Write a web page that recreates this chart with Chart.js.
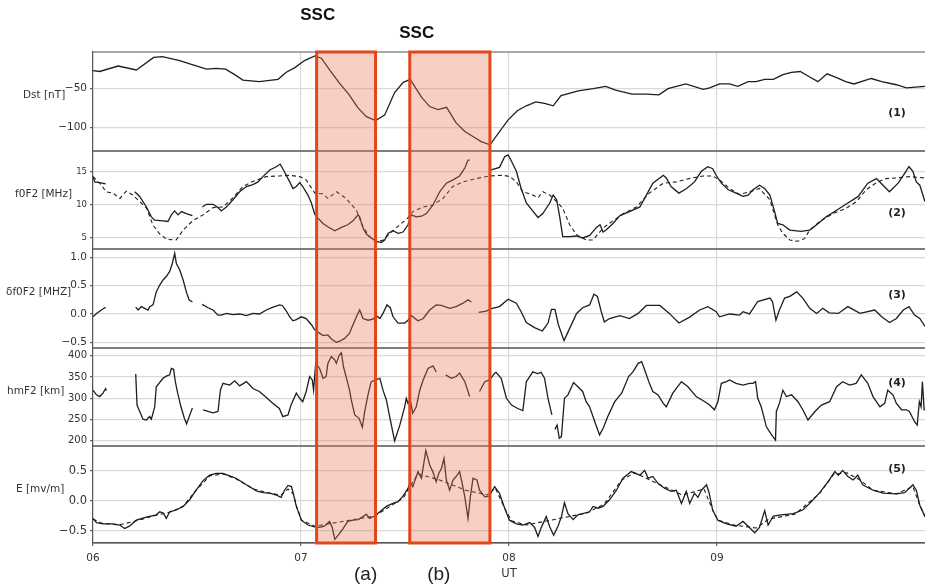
<!DOCTYPE html>
<html>
<head>
<meta charset="utf-8">
<script src="https://cdn.jsdelivr.net/npm/chart.js@4.4.1/dist/chart.umd.min.js"></script>
<style>
html, body { margin: 0; padding: 0; background: #fff; }
canvas { display: block; }
</style>
</head>
<body>
<canvas id="chart" width="925" height="586"></canvas>
<script>
// x values are hours since 06 00 UT, [hour, value], null = data gap
var dayTicks = [0, 24, 48, 72];
var dayLabels = ['06', '07', '08', '09'];

var dstTicks = [-100, -50];
var foF2Ticks = [5, 10, 15];
var dfoF2Ticks = [-0.5, 0, 0.5, 1.0];
var hmF2Ticks = [200, 250, 300, 350, 400];
var eTicks = [-0.5, 0, 0.5];

// SSC windows (a) and (b), hours
var sscWindows = [[25.8, 32.6], [36.55, 45.8]];

var dst = [[0,-27],[0.77,-28],[2.9,-21],[5,-26],[7,-10],[8,-9],[10,-14],[11.35,-19],[13.1,-25],[14.2,-24],
	[15.3,-25],[16.35,-32],[17.3,-39],[19.2,-41],[21.35,-38],[22.3,-29],[23.3,-23],[24.4,-14],[25.6,-8],[26.35,-11],
	[27.3,-26],[28.5,-44],[29.5,-57],[30.6,-75],[31.55,-86],[32.6,-91],[33.65,-84],[34.8,-55],[35.8,-42],[36.6,-38],
	[37.9,-61],[38.85,-73],[39.8,-77],[40.8,-74],[41.9,-94],[42.9,-105],[43.8,-111],[44.8,-118],[45.8,-122],[47.9,-90],
	[49,-78],[50,-72],[51.1,-67],[52.1,-69],[53.1,-72],[54,-59],[56,-53],[57.7,-50],[59.15,-47],[60.3,-52],
	[62.2,-57],[63.85,-57],[65.3,-58],[66.35,-50],[68.4,-44],[70.4,-51],[71.15,-49],[72.3,-44],[73.45,-44],[74.4,-47],
	[75.6,-41],[76.5,-41],[77.5,-38],[78.5,-38],[79.6,-32],[80.6,-29],[81.6,-28],[82.7,-35],[83.65,-41],[84.7,-31],
	[85.8,-36],[86.85,-41],[87.8,-44],[89.8,-37],[91,-41],[92.7,-45],[93.85,-49],[96,-47]];

var foF2Obs = [[0,14.2],[0.2,13.4],[0.77,13.3],[1.46,13.1],[1.6,null],
	[4.81,11.9],[5.39,11.2],[6.16,9.6],[6.73,8.1],[7.12,7.6],[8.08,7.5],[8.65,7.4],[9.04,8.4],[9.43,9.0],[9.81,8.4],
	[10.2,8.9],[10.77,8.6],[11.47,8.3],[11.6,null],
	[12.62,9.6],[13.08,10.0],[13.85,10.0],[14.42,9.5],[14.8,9.0],[15.39,9.6],[16.15,10.7],[16.92,11.9],[17.7,12.7],[18.46,13.0],
	[19.04,13.4],[19.6,14.2],[20.4,15.2],[21.15,15.7],[21.6,16.1],[21.9,15.4],[22.3,14.4],[22.7,13.4],[23.07,12.4],[23.46,12.7],
	[23.85,13.3],[24.2,12.7],[24.8,11.4],[25.2,10.2],[25.58,8.5],[25.96,7.9],[26.54,7.1],[27.1,6.6],[27.9,6.0],[28.66,6.5],
	[29.4,6.9],[30,7.5],[30.58,8.4],[30.77,8.1],[31.15,6.4],[31.54,5.5],[32.1,4.9],[32.7,4.4],[33.27,4.2],[33.65,4.6],
	[34.04,5.6],[34.6,6.0],[35.2,5.6],[35.77,5.8],[36.35,6.9],[36.73,8.4],[37.3,8.1],[37.9,8.2],[38.47,8.6],[39.23,9.9],
	[40,11.9],[40.77,13.2],[41.54,13.7],[42.3,14.3],[42.9,15.5],[43.27,16.7],[43.46,16.7],[43.6,null],
	[45.85,15.2],[46.9,15.6],[47.5,17.2],[47.9,17.5],[48.3,16.5],[48.85,15.0],[49.4,12.4],[50,10.2],[50.8,8.9],[51.35,8.0],
	[51.9,8.6],[52.7,10.2],[53.1,11.4],[53.5,10.7],[53.85,8.1],[54.2,5.1],[55,5.1],[55.8,5.2],[56.5,4.9],[57.3,5.3],
	[58.1,6.5],[58.5,6.9],[58.85,5.8],[59.2,6.1],[60,7.1],[60.8,8.3],[61.9,8.9],[63.1,9.6],[63.85,11.4],[64.6,13.2],
	[65.8,14.4],[66.15,14.0],[66.7,12.7],[67.6,11.7],[68.5,12.4],[69.4,13.4],[70.2,15.0],[70.95,15.7],[71.5,15.4],[71.9,14.4],
	[72.5,13.2],[73.3,12.2],[74.2,11.7],[75,11.2],[75.6,11.4],[76.15,12.2],[76.9,12.9],[77.5,12.4],[78.1,11.4],[78.65,8.9],
	[79,7.1],[79.6,6.9],[80.4,6.1],[81.7,5.9],[82.7,6.1],[83.5,6.9],[84.6,8.1],[85.8,9.1],[87.1,10.2],[88.3,11.2],
	[89.4,13.2],[90.4,13.9],[91.15,12.9],[91.9,11.9],[92.9,13.2],[93.65,14.7],[94.15,15.7],[94.6,15.0],[95,13.4],[95.4,12.9],[96,10.4]];

var foF2Med = [[0,14.2],[0.77,13.2],[1.54,11.9],[2.3,11.7],[3.1,10.9],[3.85,12.0],[4.6,11.4],[5.4,10.4],[6.2,9.4],[6.9,6.9],
	[7.7,5.5],[8.5,4.7],[9.6,4.6],[10.4,6.1],[11.5,7.5],[12.7,8.4],[13.85,9.5],[15,9.6],[16.15,11.0],[17.3,12.7],
	[18.5,13.5],[20,14.2],[21.5,14.3],[22.7,14.4],[23.85,14.2],[24.6,13.7],[25,12.9],[25.6,11.7],[26.5,11.6],[27.1,10.9],
	[28.1,11.9],[29.2,10.9],[30.4,9.1],[31.15,6.6],[31.9,5.1],[32.7,4.3],[33.5,4.6],[34.4,5.8],[35.4,6.9],[36.3,7.9],
	[36.9,8.9],[38.1,9.6],[39.2,9.9],[40.4,10.9],[41.5,12.7],[42.7,13.4],[44.2,13.9],[45.8,14.3],[47.3,14.4],[48.1,14.2],
	[48.85,13.4],[49.6,11.9],[50.6,11.5],[51.35,11.0],[51.9,11.9],[52.7,11.4],[53.5,10.4],[54.2,9.4],[55,6.9],[55.8,5.4],
	[56.9,4.6],[57.7,4.6],[58.85,6.4],[60,7.5],[61.2,8.6],[62.7,9.6],[64.2,11.7],[65.8,13.2],[67.3,13.4],[68.8,13.9],
	[70.4,14.3],[71.5,14.3],[72.3,13.7],[73.45,12.4],[74.6,11.5],[76,12.0],[76.9,12.4],[78.1,10.7],[79,6.9],[79.6,5.6],
	[80.4,4.6],[81.3,4.4],[82.1,4.8],[82.7,6.1],[83.85,7.4],[85.4,8.6],[86.9,9.4],[88.1,10.4],[89.2,12.2],[90.4,13.3],
	[91.5,13.9],[92.7,14.0],[94.2,14.2],[96,14.0]];

var dfoF2 = [[0,-0.05],[0.4,0.01],[0.97,0.07],[1.46,0.12],[1.6,null],
	[4.93,0.12],[5.2,0.07],[5.58,0.13],[5.97,0.10],[6.35,0.07],[6.54,0.13],[6.93,0.16],[7.3,0.39],[7.7,0.51],[8.08,0.6],
	[8.46,0.66],[8.85,0.75],[9.15,0.89],[9.43,1.07],[9.62,0.89],[10,0.78],[10.4,0.6],[10.77,0.39],[11.08,0.25],[11.47,0.21],[11.6,null],
	[12.6,0.17],[13.27,0.11],[13.85,0.07],[14.42,-0.02],[14.8,-0.02],[15.39,0.01],[16.15,-0.01],[16.92,0],[17.7,-0.03],[18.46,0.01],
	[19.2,0],[20,0.07],[20.77,0.12],[21.54,0.16],[21.85,0.15],[22.23,0.07],[22.7,-0.05],[23.07,-0.12],[23.46,-0.1],[24.04,-0.05],
	[24.6,-0.08],[25.2,-0.19],[25.58,-0.28],[25.96,-0.32],[26.54,-0.38],[27.1,-0.37],[27.5,-0.44],[28.08,-0.5],[28.46,-0.48],[29.04,-0.43],
	[29.6,-0.34],[30,-0.19],[30.4,-0.05],[30.77,0.07],[31.15,-0.08],[31.73,-0.11],[32.3,-0.09],[32.7,-0.03],[33.1,-0.08],[33.46,0.01],
	[33.92,0.16],[34.3,0.11],[34.62,-0.05],[35.2,-0.16],[35.95,-0.16],[36.35,-0.11],[36.73,-0.03],[37.5,-0.12],[38.1,-0.08],[38.85,0.07],
	[39.6,0.16],[40.2,0.15],[41.15,0.10],[41.9,0.13],[42.7,0.19],[43.27,0.25],[43.65,0.21],[44,null],
	[44.5,0.03],[45.4,0.05],[45.85,0.09],[46.9,0.13],[47.9,0.26],[48.85,0.19],[49.4,0.04],[50,-0.15],[50.95,-0.24],[51.85,-0.3],
	[52.5,-0.16],[52.9,0.08],[53.3,0.08],[53.7,-0.19],[54.35,-0.47],[54.8,-0.32],[55.8,0.01],[56.5,0.11],[57.3,0.16],[57.8,0.35],
	[58.2,0.31],[58.65,0.04],[59,-0.14],[59.6,-0.08],[60.8,-0.03],[61.9,-0.08],[62.9,0.01],[63.85,0.15],[65.4,0.15],[66.5,0.01],
	[67.6,-0.16],[68.8,-0.06],[70,0.07],[70.95,0.13],[71.9,0.04],[72.3,-0.05],[73.45,0],[74.6,-0.02],[75,0.04],[75.75,0],
	[76.7,0.22],[78.1,0.28],[78.4,0.22],[78.8,-0.11],[79.2,0.07],[79.8,0.28],[80.4,0.31],[81.2,0.39],[81.9,0.28],[82.7,0.10],
	[83.5,0.01],[84.2,0.1],[84.95,0.02],[86,0.01],[87.1,0.13],[88.5,0.01],[90.2,0.07],[91,-0.05],[91.9,-0.15],[92.7,-0.08],
	[93.5,0.07],[94.15,0.13],[94.8,-0.02],[95.4,-0.08],[96,-0.22]];

var hmF2 = [[0,319],[0.4,308],[0.77,304],[1.15,312],[1.46,323],[1.54,318],[1.7,null],
	[4.93,357],[5.08,284],[5.39,269],[5.77,251],[6.16,249],[6.54,257],[6.73,251],[7.12,280],[7.3,327],[8.08,347],
	[8.46,352],[8.85,355],[9.04,370],[9.3,368],[9.5,339],[9.77,312],[10.15,280],[10.54,253],[10.8,240],[11.1,257],[11.47,277],[11.8,null],
	[12.7,273],[13.27,269],[13.85,266],[14.42,269],[14.7,319],[15,335],[15.77,331],[16.35,341],[16.92,329],[17.7,339],
	[18.46,323],[19.2,316],[20,302],[20.77,288],[21.5,276],[21.9,257],[22.5,261],[22.85,284],[23.46,312],[23.85,300],
	[24.2,292],[24.6,316],[25,351],[25.3,343],[25.45,319],[25.7,382],[26.15,370],[26.54,347],[26.9,351],[27.1,382],
	[27.5,398],[27.9,390],[28.08,382],[28.4,401],[28.66,407],[28.9,374],[29.2,351],[29.6,319],[29.8,296],[30.2,261],
	[30.7,253],[31.08,232],[31.35,269],[31.73,308],[32.1,339],[32.7,344],[33.1,347],[33.46,319],[33.85,296],[34.23,257],
	[34.8,200],[35.4,237],[35.96,280],[36.15,300],[36.35,288],[36.6,296],[36.9,265],[37.3,280],[37.7,319],[38.1,343],
	[38.65,370],[39.23,376],[39.6,362],[40,null],
	[40.7,355],[41.35,347],[41.9,351],[42.3,359],[42.9,339],[43.46,304],[44,null],
	[44.6,316],[45.2,339],[45.77,343],[46.35,359],[46.5,361],[47.1,347],[47.7,300],[48.3,284],[49,276],[49.6,271],
	[50,339],[50.75,362],[51.3,358],[51.7,361],[52.1,347],[52.5,300],[52.95,261],[53.1,null],
	[53.3,227],[53.55,237],[53.8,206],[54.05,210],[54.4,300],[54.8,308],[55.45,337],[55.95,327],[56.5,316],[56.9,292],
	[57.3,280],[57.9,245],[58.45,214],[58.85,229],[59.4,257],[60.2,292],[61,312],[61.8,351],[62.3,362],[62.9,382],
	[63.3,386],[63.6,370],[64.2,335],[64.6,316],[65.2,308],[65.8,288],[66.15,280],[66.9,312],[67.9,339],[68.65,327],
	[69.6,304],[70.6,292],[71.15,284],[71.7,273],[72.1,292],[72.5,335],[73.1,339],[73.45,343],[74.2,335],[75,331],
	[75.75,335],[76.15,335],[76.45,339],[76.7,300],[77.1,280],[77.7,233],[78.3,214],[78.75,202],[78.85,269],[79.2,288],
	[79.6,319],[80,304],[80.6,308],[81.35,292],[81.9,273],[82.5,249],[83.3,269],[84.05,284],[85,292],[85.8,327],
	[86.5,339],[87.3,331],[88.05,335],[88.65,355],[89.4,335],[90,304],[90.8,280],[91.35,288],[91.7,319],[92.3,308],
	[92.7,288],[93.3,273],[93.85,273],[94.2,269],[94.8,245],[95.1,237],[95.35,292],[95.55,280],[95.7,339],[95.9,273],[96,273]];

var eObs = [[0,-0.29],[0.4,-0.36],[1.15,-0.38],[2.3,-0.38],[3.1,-0.4],[3.65,-0.46],[4.2,-0.42],[5,-0.32],[6.16,-0.27],[7.3,-0.23],
	[7.7,-0.18],[8.1,-0.2],[8.46,-0.29],[8.85,-0.18],[9.6,-0.15],[10.4,-0.09],[11.15,0.02],[11.9,0.18],[12.7,0.34],[13.46,0.43],
	[14.2,0.46],[15,0.46],[15.77,0.42],[16.5,0.38],[17.7,0.27],[18.85,0.17],[19.6,0.14],[20.4,0.13],[21.15,0.1],[21.7,0.06],
	[22.1,0.18],[22.5,0.26],[22.9,0.24],[23.1,0.13],[23.46,-0.09],[24.04,-0.32],[24.8,-0.4],[25.58,-0.43],[26.15,-0.44],[26.7,-0.42],
	[27.3,-0.34],[27.6,-0.44],[27.9,-0.64],[28.3,-0.57],[28.85,-0.46],[29.4,-0.34],[30,-0.32],[30.6,-0.31],[31.15,-0.26],[31.54,-0.22],
	[31.9,-0.29],[32.5,-0.25],[33.1,-0.18],[33.85,-0.09],[34.6,-0.04],[35.2,-0.01],[35.77,0.08],[36.35,0.21],[36.6,0.32],[36.9,0.24],
	[37.5,0.49],[37.9,0.38],[38.4,0.84],[38.85,0.6],[39.2,0.49],[39.6,0.32],[39.9,0.46],[40.2,0.54],[40.5,0.71],[40.77,0.35],
	[41.15,0.18],[41.54,0.35],[41.85,0.4],[42.3,0.49],[42.6,0.29],[42.9,0.07],[43.27,-0.29],[43.54,0.07],[43.85,0.38],[44.3,0.35],
	[44.6,0.18],[45.2,0.07],[45.7,0.08],[46.35,0.24],[46.9,0.13],[47.5,-0.12],[48.05,-0.32],[48.85,-0.38],[49.6,-0.4],[50.4,-0.36],
	[50.95,-0.44],[51.35,-0.59],[51.7,-0.45],[52.3,-0.26],[52.7,-0.43],[53.15,-0.57],[53.65,-0.42],[54.05,-0.26],[54.4,-0.03],[54.8,-0.21],
	[55.4,-0.31],[55.95,-0.23],[56.5,-0.21],[57.3,-0.18],[57.7,-0.09],[58.3,-0.12],[58.85,-0.09],[59.6,0.02],[60.4,0.18],[61.15,0.38],
	[62.1,0.49],[63.1,0.43],[63.65,0.51],[64.05,0.38],[64.6,0.41],[65.2,0.29],[66,0.21],[66.7,0.16],[67.3,0.18],[67.9,-0.04],
	[68.45,0.16],[68.85,-0.04],[69.4,0.13],[69.8,0.06],[70.2,0.18],[70.8,0.27],[71.1,0.13],[71.5,-0.15],[72.1,-0.32],[73.1,-0.38],
	[74.2,-0.42],[75,-0.34],[75.6,-0.42],[76.35,-0.53],[76.9,-0.44],[77.5,-0.16],[77.9,-0.4],[78.5,-0.25],[79.4,-0.23],[80.8,-0.21],
	[81.9,-0.15],[82.7,-0.04],[83.85,0.14],[84.8,0.32],[85.6,0.49],[86,0.43],[86.5,0.51],[87.1,0.41],[87.7,0.35],[88.25,0.43],
	[88.8,0.27],[90,0.18],[91.15,0.13],[92.7,0.12],[93.65,0.14],[94.6,0.27],[95,0.18],[95.4,-0.07],[96,-0.26]];

var eMod = [[0,-0.3],[1,-0.37],[3,-0.4],[5,-0.33],[7,-0.25],[9,-0.18],[10.4,-0.09],[11.9,0.18],[13.5,0.42],[15,0.45],
	[16.5,0.37],[18.5,0.2],[20.4,0.13],[21.7,0.1],[22.5,0.2],[23.1,0.12],[23.5,-0.09],[24.05,-0.32],[25.6,-0.42],[32.5,-0.25],
	[34.6,-0.06],[35.8,0.05],[36.6,0.25],[37.5,0.45],[40,0.35],[43,0.18],[45.5,0.1],[46.4,0.22],[47.5,-0.12],[48.3,-0.33],
	[50,-0.4],[57,-0.2],[59,-0.05],[61,0.35],[62.5,0.47],[65,0.3],[68,0.1],[70.5,0.2],[71.5,-0.15],[72.1,-0.32],
	[74,-0.4],[76.5,-0.45],[78,-0.3],[81,-0.22],[83.8,0.12],[85.5,0.45],[87,0.47],[88.5,0.35],[90,0.18],[92.7,0.12],
	[94.6,0.24],[95.4,-0.07],[96,-0.26]];

function pts(arr) {
	return arr.map(function(p) { return {x: p[0], y: p[1]}; });
}

function fmt(v, dec) {
	return (v < 0 ? '\u2212' : '') + Math.abs(v).toFixed(dec);
}

var gridColor = '#d9d9d9';
var frameColor = '#555';

function yScale(min, max, tickVals, dec, height, order, size) {
	return {
		type: 'linear', position: 'left', stack: 'panels', stackWeight: height, weight: order,
		min: min, max: max,
		afterFit: function(s) { s.width = 93; },
		afterBuildTicks: function(s) { s.ticks = tickVals.map(function(v) { return {value: v}; }); },
		ticks: {
			callback: function(v) { return fmt(v, dec); },
			color: '#333', font: {family: 'DejaVu Sans', size: size}, padding: 3, autoSkip: false
		},
		grid: { color: gridColor, lineWidth: 1.2, drawTicks: true, tickLength: 3, tickColor: '#666' },
		border: { display: true, color: frameColor, width: 1.2 }
	};
}

// panel titles / numbers drawn by the overlay plugin
var panelIds = ['yDst', 'yFo', 'yDfo', 'yHm', 'yE'];
var panelTitles = ['Dst [nT]', 'f0F2 [MHz]', '\u03b4f0F2 [MHZ]', 'hmF2 [km]', 'E [mv/m]'];
var titleX = [23, 15, 6, 7, 16];
var numberDy = [61, 62, 46, 35, 23];

var overlay = {
	id: 'overlay',
	afterDatasetsDraw: function(chart) {
		var ctx = chart.ctx, a = chart.chartArea, xs = chart.scales.x;
		ctx.save();
		// frames between panels
		ctx.strokeStyle = frameColor;
		ctx.lineWidth = 1.2;
		panelIds.forEach(function(id) {
			var s = chart.scales[id];
			[s.top, s.bottom].forEach(function(y) {
				ctx.beginPath(); ctx.moveTo(a.left, y); ctx.lineTo(a.right, y); ctx.stroke();
			});
		});
		// SSC windows
		sscWindows.forEach(function(w) {
			var l = xs.getPixelForValue(w[0]), r = xs.getPixelForValue(w[1]);
			ctx.fillStyle = 'rgba(232, 118, 88, 0.35)';
			ctx.fillRect(l, a.top, r - l, a.bottom - a.top);
			ctx.strokeStyle = '#e2471a';
			ctx.lineWidth = 3;
			ctx.strokeRect(l, a.top, r - l, a.bottom - a.top);
		});
		// y titles and panel numbers
		ctx.fillStyle = '#333';
		ctx.textBaseline = 'middle';
		panelIds.forEach(function(id, i) {
			var s = chart.scales[id];
			ctx.font = '10.5px "DejaVu Sans"';
			ctx.textAlign = 'left';
			ctx.fillText(panelTitles[i], titleX[i], s.top + 43);
			ctx.font = 'bold 11px "DejaVu Sans"';
			ctx.textAlign = 'center';
			ctx.fillStyle = '#222';
			ctx.fillText('(' + (i + 1) + ')', 897, s.top + numberDy[i]);
			ctx.fillStyle = '#333';
		});
		// annotations
		ctx.fillStyle = '#111';
		ctx.textAlign = 'center';
		ctx.font = 'bold 17px "Liberation Sans"';
		ctx.fillText('SSC', xs.getPixelForValue(25.93), 15);
		ctx.fillText('SSC', xs.getPixelForValue(37.35), 33);
		ctx.font = '19px "Liberation Sans"';
		ctx.fillStyle = '#222';
		ctx.fillText('(a)', xs.getPixelForValue(31.46), 575);
		ctx.fillText('(b)', xs.getPixelForValue(39.9), 575);
		ctx.font = '11.5px "DejaVu Sans"';
		ctx.fillStyle = '#333';
		ctx.fillText('UT', xs.getPixelForValue(48), 574);
		ctx.restore();
	}
};

function line(data, axis, dashed) {
	return {
		data: pts(data), yAxisID: axis, borderColor: '#1e1e1e', borderWidth: dashed ? 1.1 : 1.3,
		borderDash: dashed ? [4, 3] : [], pointRadius: 0, fill: false, tension: 0, spanGaps: false
	};
}

var chart = new Chart(document.getElementById('chart'), {
	type: 'line',
	data: {
		datasets: [
			line(dst, 'yDst'),
			line(foF2Med, 'yFo', true),
			line(foF2Obs, 'yFo'),
			line(dfoF2, 'yDfo'),
			line(hmF2, 'yHm'),
			line(eMod, 'yE', true),
			line(eObs, 'yE')
		]
	},
	options: {
		responsive: false,
		animation: false,
		layout: { padding: { top: 52, left: 0, right: 0, bottom: 0 } },
		plugins: { legend: { display: false }, tooltip: { enabled: false } },
		scales: {
			x: {
				type: 'linear', min: 0, max: 96,
				afterBuildTicks: function(s) { s.ticks = dayTicks.map(function(v) { return {value: v}; }); },
				afterFit: function(s) { s.height = 43; },
				ticks: {
					callback: function(v, i) { return dayLabels[i]; },
					color: '#333', font: {family: 'DejaVu Sans', size: 10.5}, padding: 6, maxRotation: 0, autoSkip: false
				},
				grid: { color: gridColor, lineWidth: 1.2, drawTicks: true, tickLength: 3, tickColor: '#666' },
				border: { display: true, color: frameColor, width: 1.2 }
			},
			yDst: yScale(-130, -3, dstTicks, 0, 99, 5, 10.5),
			yFo: yScale(3.23, 18.08, foF2Ticks, 0, 98, 4, 8.5),
			yDfo: yScale(-0.6, 1.146, dfoF2Ticks, 1, 99, 3, 10.5),
			yHm: yScale(188, 418, hmF2Ticks, 0, 98, 2, 10),
			yE: yScale(-0.7, 0.917, eTicks, 1, 97, 1, 11.5)
		}
	},
	plugins: [overlay]
});
</script>
</body>
</html>
